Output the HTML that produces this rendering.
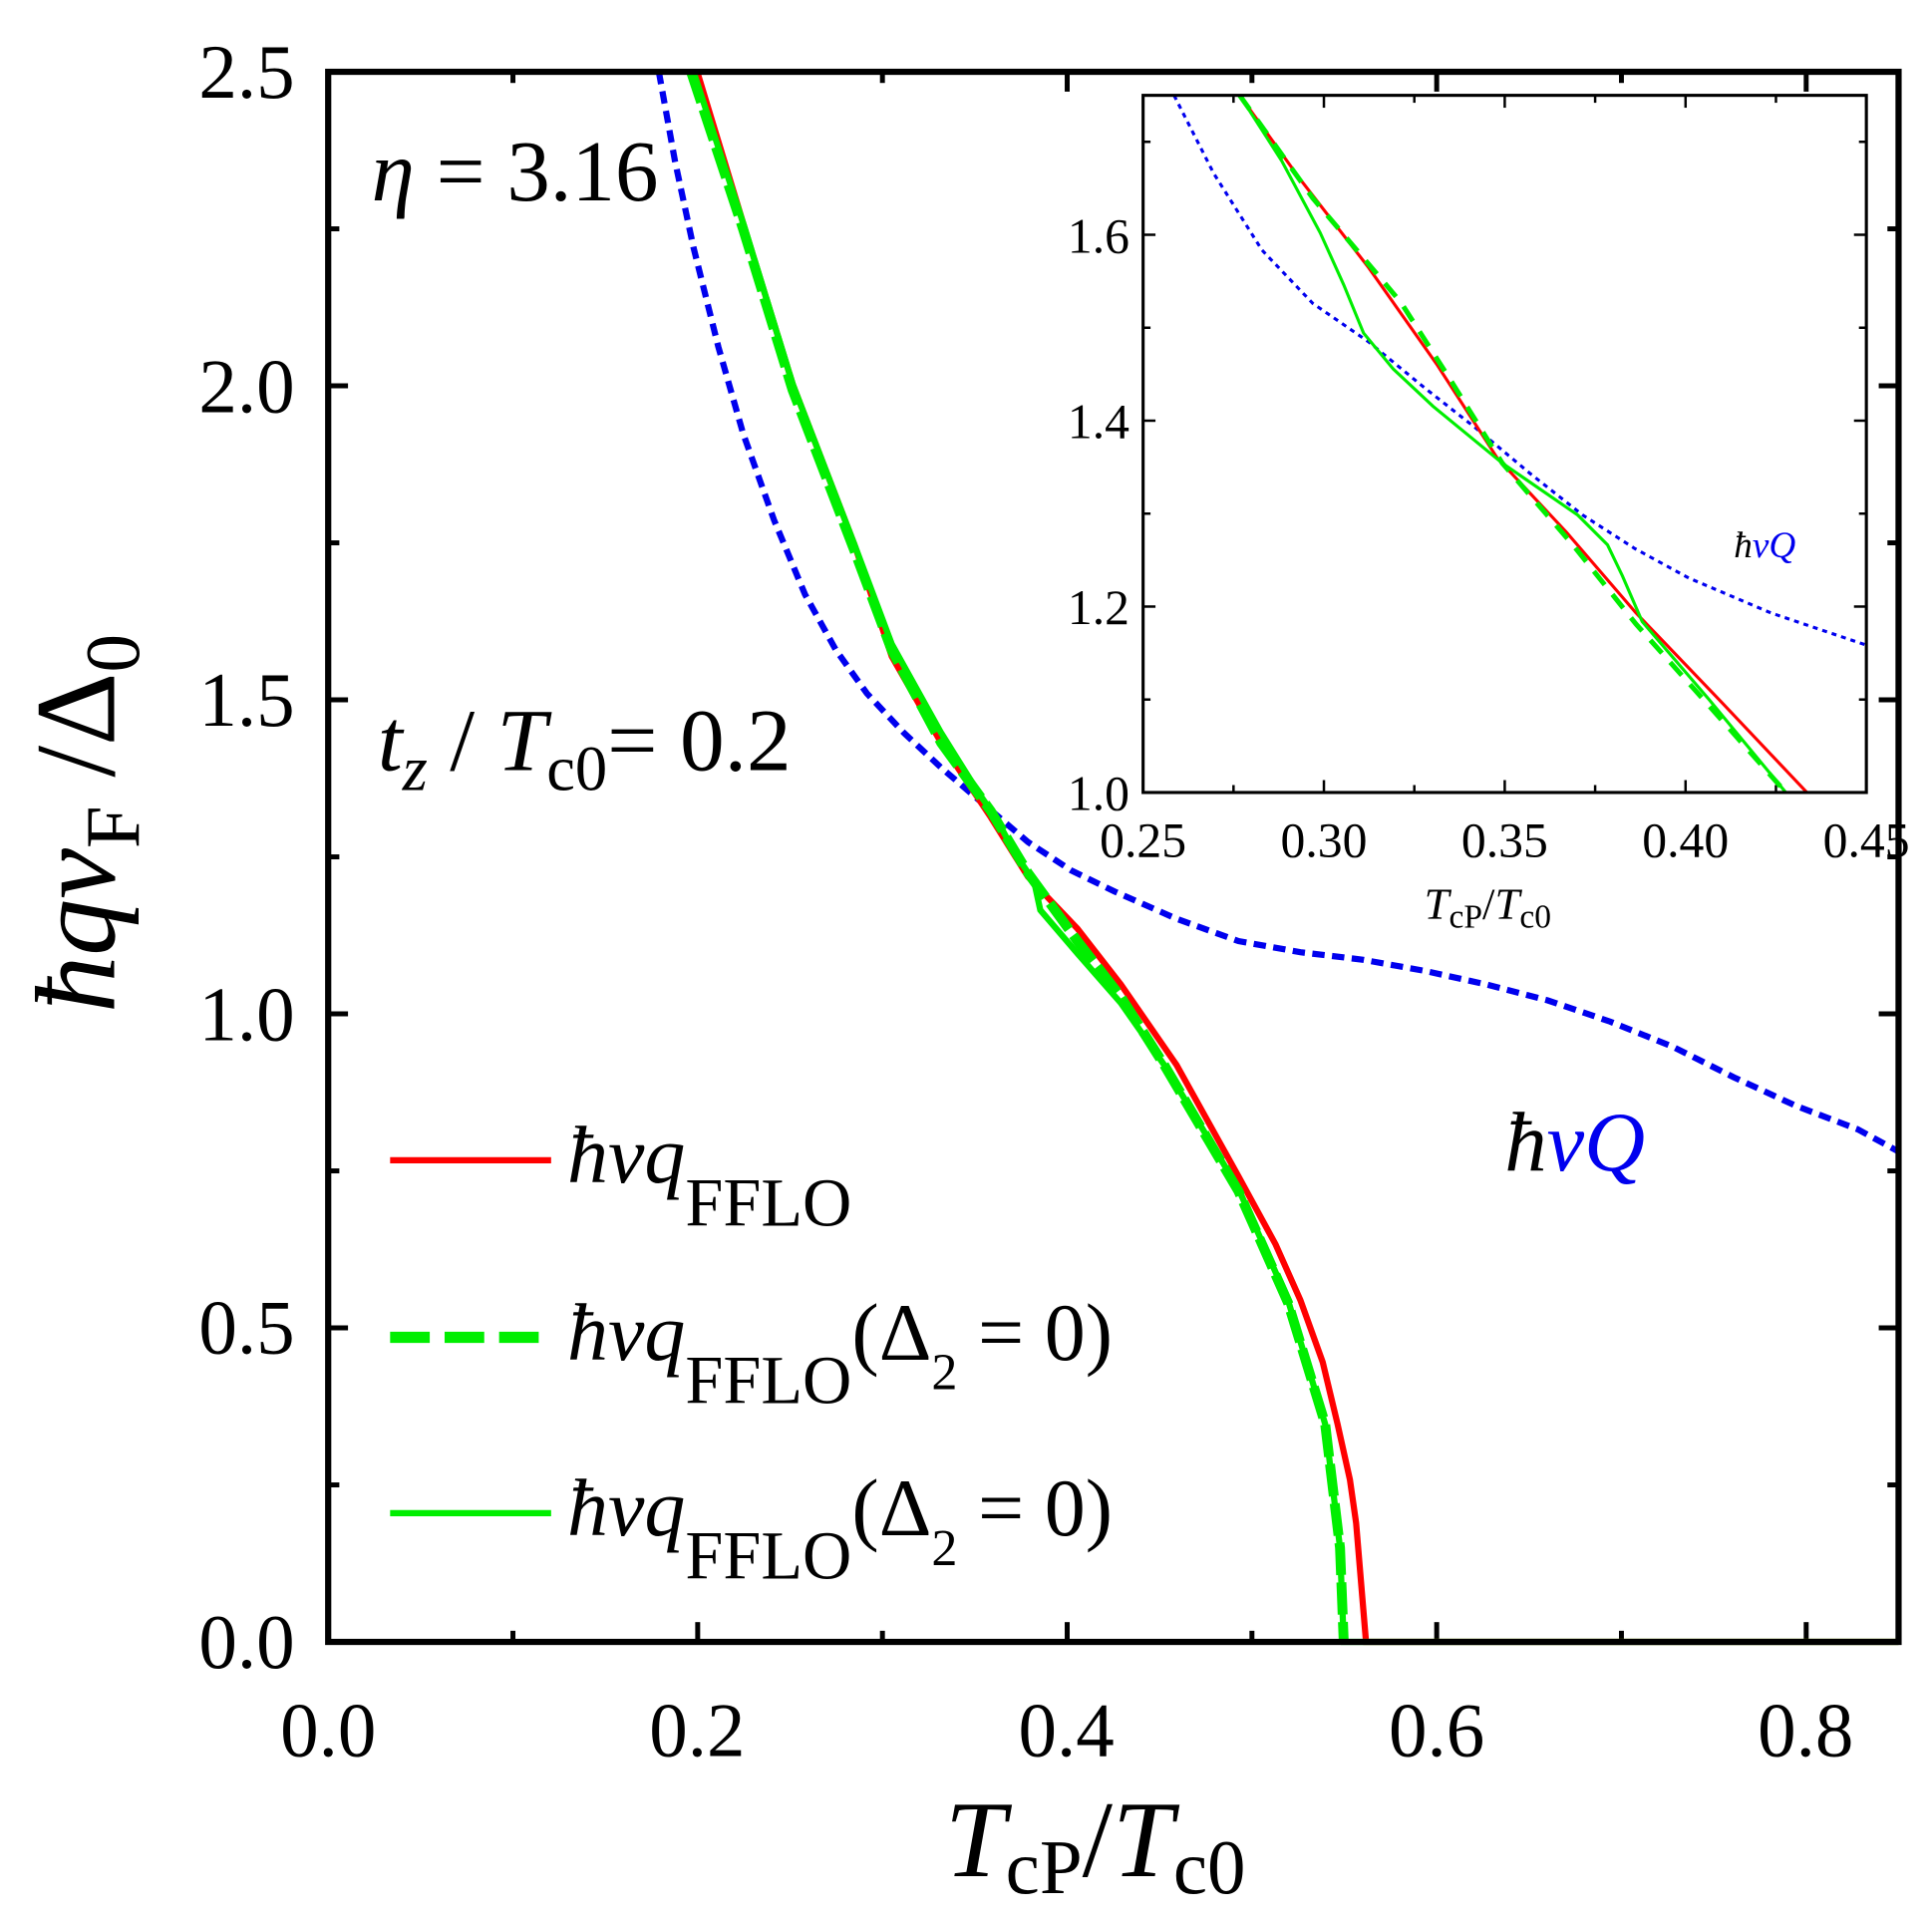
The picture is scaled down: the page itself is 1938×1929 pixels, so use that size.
<!DOCTYPE html>
<html><head><meta charset="utf-8"><style>
html,body{margin:0;padding:0;background:#fff;}
svg{display:block;}
text{font-family:"Liberation Serif",serif;}
</style></head><body>
<svg id="s" width="1938" height="1929" viewBox="0 0 1560 1553" preserveAspectRatio="none" xmlns="http://www.w3.org/2000/svg">
<rect x="0" y="0" width="1560" height="1553" fill="#fff"/>
<g id="ticks" stroke="#000" fill="none"></g>
<polyline fill="none" stroke="#0000ee" stroke-width="5" stroke-dasharray="10,6" points="532,58 545,130 560,200 580,280 600,350 625,420 650,480 675,525 700,560 730,592 760,620 795,650 830,680 865,703 900,720 950,742 1000,760 1050,769 1100,775 1150,784 1200,795 1250,808 1300,825 1350,845 1400,870 1450,893 1500,912 1533,930"/>
<polyline fill="none" stroke="#ff0000" stroke-width="5" points="563,58 600,180 640,310 690,440 720,530 760,600 800,660 830,708 870,750 905,795 950,860 1000,950 1030,1005 1050,1050 1068,1100 1080,1150 1090,1195 1095,1230 1100,1290 1103,1326 1533,1326"/>
<polyline fill="none" stroke="#00ee00" stroke-width="8" stroke-dasharray="26,6" points="558,58 600,185 640,315 690,445 720,525 760,600 800,655 830,705 870,760 905,805 940,860 1000,962 1040,1052 1070,1150 1082,1250 1085,1326"/>
<polyline fill="none" stroke="#00ee00" stroke-width="5" points="560,58 600,180 640,310 690,440 720,520 760,592 790,640 805,662 820,690 835,712 840,735 870,770 905,810 940,860 1000,960 1040,1050 1070,1150 1082,1250 1085,1326 1533,1326"/>
<rect x="265" y="58" width="1268" height="1268" fill="none" stroke="#000" stroke-width="5"/>
<rect x="923" y="77" width="584" height="563" fill="#fff" stroke="none"/>
<g id="iticks" stroke="#000" fill="none"></g>
<polyline fill="none" stroke="#0000ee" stroke-width="2.5" stroke-dasharray="4,4" points="948,77 980,140 1019,202 1060,245 1105,276 1150,313 1192,346 1235,382 1278,416 1320,443 1364,467 1430,495 1507,521"/>
<polyline fill="none" stroke="#ff0000" stroke-width="2.5" points="1001,77 1050,145 1105,216 1160,294 1209,370 1265,430 1321,495 1390,567 1459,640"/>
<polyline fill="none" stroke="#00ee00" stroke-width="4" stroke-dasharray="14,10" points="1001,77 1060,160 1131,244 1170,305 1213,374 1270,440 1321,504 1380,570 1442,640"/>
<polyline fill="none" stroke="#00ee00" stroke-width="2.5" points="1001,77 1035,130 1066,188 1085,230 1101,269 1125,298 1157,328 1213,374 1274,416 1298,440 1310,465 1326,502 1380,565 1442,640"/>
<rect x="923" y="77" width="584" height="563" fill="none" stroke="#000" stroke-width="2.5"/>
<g font-size="62" text-anchor="end">
<text x="238" y="79">2.5</text><text x="238" y="333">2.0</text><text x="238" y="586">1.5</text>
<text x="238" y="840">1.0</text><text x="238" y="1093">0.5</text><text x="238" y="1347">0.0</text>
</g>
<g font-size="62" text-anchor="middle">
<text x="265" y="1418">0.0</text><text x="563" y="1418">0.2</text><text x="861" y="1418">0.4</text>
<text x="1160" y="1418">0.6</text><text x="1458" y="1418">0.8</text>
</g>
<g font-size="40" text-anchor="end">
<text x="912" y="654">1.0</text><text x="912" y="504">1.2</text><text x="912" y="354">1.4</text><text x="912" y="204">1.6</text>
</g>
<g font-size="40" text-anchor="middle">
<text x="923" y="692">0.25</text><text x="1069" y="692">0.30</text><text x="1215" y="692">0.35</text>
<text x="1361" y="692">0.40</text><text x="1507" y="692">0.45</text>
</g>
<text x="1150" y="742" font-size="36" font-style="italic">T<tspan font-style="normal" font-size="27" dy="7">cP</tspan><tspan dy="-7" font-style="normal">/</tspan>T<tspan font-style="normal" font-size="27" dy="7">c0</tspan></text>
<text x="1400" y="450" font-size="30" font-style="italic">ħ<tspan fill="#0000ee">vQ</tspan></text>
<text x="763" y="1515" font-size="88" font-style="italic">T<tspan font-style="normal" font-size="62" dy="14">cP</tspan><tspan dy="-14" font-style="normal">/</tspan>T<tspan font-style="normal" font-size="62" dy="14">c0</tspan></text>
<text transform="translate(92,818) rotate(-90)" font-size="92" font-style="italic">ħqv<tspan font-style="normal" font-size="62" dy="20">F</tspan><tspan dy="-20" font-style="normal"> /Δ</tspan><tspan font-style="normal" font-size="62" dy="20">0</tspan></text>
<text x="300" y="162" font-size="70"><tspan font-style="italic">η</tspan> = 3.16</text>
<text x="305" y="622" font-size="72"><tspan font-style="italic">t</tspan><tspan font-style="italic" font-size="52" dy="16">z</tspan><tspan dy="-16"> / </tspan><tspan font-style="italic">T</tspan><tspan font-size="52" dy="16">c0</tspan><tspan dy="-16">= 0.2</tspan></text>
<text x="1215" y="945" font-size="68" font-style="italic">ħ<tspan fill="#0000ee">vQ</tspan></text>
<line x1="315" y1="937" x2="445" y2="937" stroke="#ff0000" stroke-width="5"/>
<line x1="315" y1="1080" x2="445" y2="1080" stroke="#00ee00" stroke-width="9" stroke-dasharray="32,12"/>
<line x1="315" y1="1222" x2="445" y2="1222" stroke="#00ee00" stroke-width="5"/>
<g font-size="66">
<text x="458" y="955"><tspan font-style="italic">ħvq</tspan><tspan font-size="55" dy="35">FFLO</tspan></text>
<text x="458" y="1098"><tspan font-style="italic">ħvq</tspan><tspan font-size="55" dy="35">FFLO</tspan><tspan dy="-35">(Δ</tspan><tspan font-size="42" dy="24">2</tspan><tspan dy="-24"> =  0)</tspan></text>
<text x="458" y="1240"><tspan font-style="italic">ħvq</tspan><tspan font-size="55" dy="35">FFLO</tspan><tspan dy="-35">(Δ</tspan><tspan font-size="42" dy="24">2</tspan><tspan dy="-24"> =  0)</tspan></text>
</g>
</svg>
<script>
var ns="http://www.w3.org/2000/svg";
function ln(g,x1,y1,x2,y2,w){var l=document.createElementNS(ns,"line");l.setAttribute("x1",x1);l.setAttribute("y1",y1);l.setAttribute("x2",x2);l.setAttribute("y2",y2);l.setAttribute("stroke-width",w);g.appendChild(l);}
var g=document.getElementById("ticks");
for(var i=0;i<=8;i++){var x=265+i*0.1/0.85*1268;var L=(i%2==0)?16:9;ln(g,x,1326,x,1326-L,4);ln(g,x,58,x,58+L,4);}
for(var j=0;j<=10;j++){var y=1326-j*0.25/2.5*1268;var L=(j%2==0)?16:9;ln(g,265,y,265+L,y,4);ln(g,1533,y,1533-L,y,4);}
var h=document.getElementById("iticks");
for(var i=0;i<=8;i++){var x=923+i*584/8;var L=(i%2==0)?10:6;ln(h,x,640,x,640-L,2);ln(h,x,77,x,77+L,2);}
for(var j=0;j<=7;j++){var y=640-j*0.1/0.75*563;var L=(j%2==0)?10:6;ln(h,923,y,923+L,y,2);ln(h,1507,y,1507-L,y,2);}
</script>
</body></html>
